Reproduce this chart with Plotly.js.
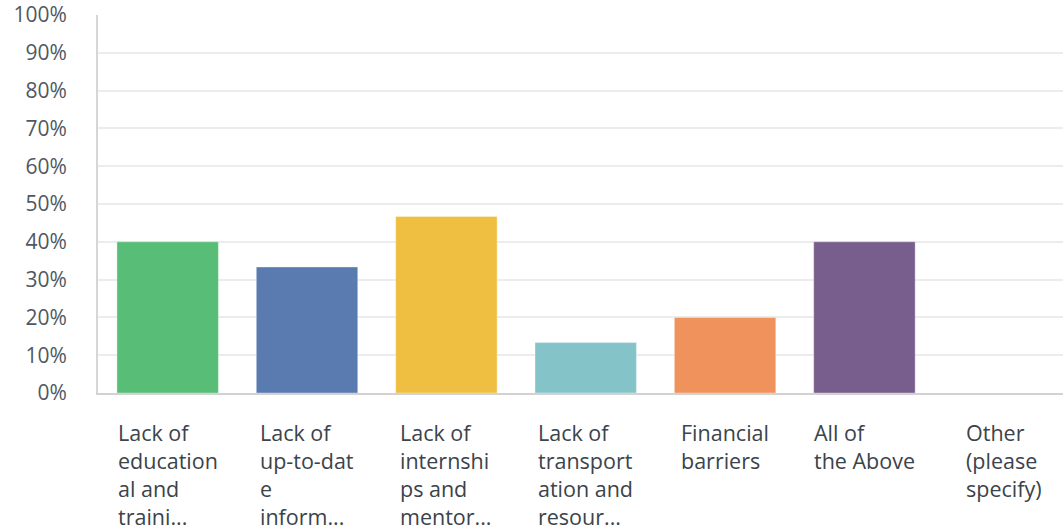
<!DOCTYPE html>
<html>
<head>
<meta charset="utf-8">
<script src="https://cdn.plot.ly/plotly-3.0.1.min.js"></script>
<style>html,body{margin:0;padding:0;background:#fff;}#chart{width:1063px;height:531px;}</style>
</head>
<body>
<div id="chart"></div>
<script>
const categories = [
  "Lack of<br>education<br>al and<br>traini...",
  "Lack of<br>up-to-dat<br>e<br>inform...",
  "Lack of<br>internshi<br>ps and<br>mentor...",
  "Lack of<br>transport<br>ation and<br>resour...",
  "Financial<br>barriers",
  "All of<br>the Above",
  "Other<br>(please<br>specify)"
];
const categoryKeys = ["c0","c1","c2","c3","c4","c5","c6"];
const values = [40, 33.33, 46.67, 13.33, 20, 40, 0];
const barColors = ["#57bd77", "#5a7bb0", "#efbf41", "#84c4c9", "#f0925b", "#785e8c", "#a6a6a6"];
const yTickValues = [0, 10, 20, 30, 40, 50, 60, 70, 80, 90, 100];
const yTickLabels = ["0%", "10%", "20%", "30%", "40%", "50%", "60%", "70%", "80%", "90%", "100%"];

const trace = {
  type: "bar",
  x: categoryKeys,
  y: values,
  marker: {color: barColors, line: {color: "rgba(255,255,255,0.35)", width: 1}},
  hoverinfo: "none"
};

const annotations = categoryKeys.map((k, i) => ({
  x: k, xref: "x",
  y: 0, yref: "paper",
  yanchor: "top", xanchor: "center",
  yshift: -23,
  align: "left",
  showarrow: false,
  text: categories[i],
  font: {family: "'Open Sans', sans-serif", size: 21.5, color: "#3b434b"}
}));

const layout = {
  width: 1063, height: 531,
  margin: {l: 98, r: 0, t: 15, b: 138, pad: 0},
  paper_bgcolor: "#ffffff",
  plot_bgcolor: "#ffffff",
  showlegend: false,
  bargap: 0.272,
  xaxis: {
    type: "category",
    range: [-0.5, 6.425],
    showticklabels: false,
    showgrid: false,
    showline: true, linecolor: "#d2d2d2", linewidth: 2,
    ticks: "", zeroline: false, fixedrange: true
  },
  yaxis: {
    range: [0, 100],
    tickvals: yTickValues,
    ticktext: yTickLabels,
    ticks: "",
    ticklabelstandoff: 25,
    showgrid: true, gridcolor: "#ececec", gridwidth: 2,
    showline: true, linecolor: "#d6d6d6", linewidth: 2,
    zeroline: false, fixedrange: true,
    tickfont: {family: "'Open Sans', sans-serif", size: 21, color: "#4f5861"}
  },
  annotations: annotations
};

Plotly.newPlot("chart", [trace], layout, {displayModeBar: false, staticPlot: true});
</script>
</body>
</html>
